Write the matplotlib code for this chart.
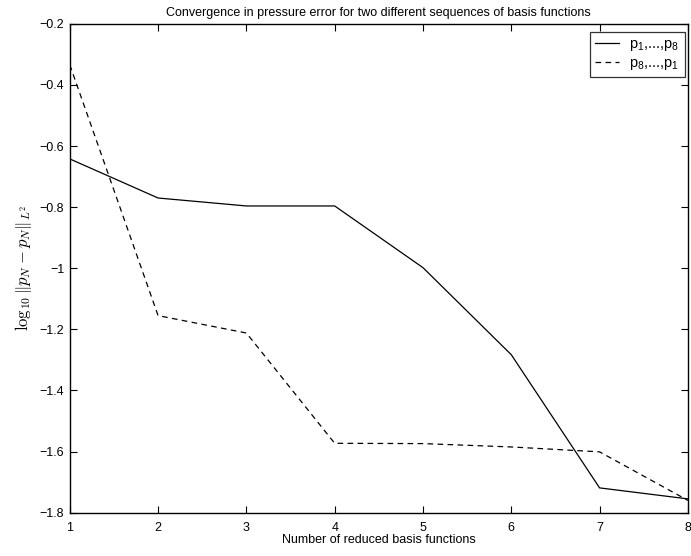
import matplotlib
matplotlib.use("Agg")
import matplotlib.pyplot as plt

# data
n_basis = [1, 2, 3, 4, 5, 6, 7, 8]
err_forward = [-0.642, -0.770, -0.796, -0.796, -0.998, -1.283, -1.719, -1.755]
err_reverse = [-0.334, -1.155, -1.212, -1.573, -1.574, -1.585, -1.601, -1.760]
labels = ["p$_1$,...,p$_8$", "p$_8$,...,p$_1$"]
yticks = [-1.8, -1.6, -1.4, -1.2, -1.0, -0.8, -0.6, -0.4, -0.2]
ytick_labels = ["\u22121.8", "\u22121.6", "\u22121.4", "\u22121.2", "\u22121",
                "\u22120.8", "\u22120.6", "\u22120.4", "\u22120.2"]

plt.rcParams["font.family"] = ["Liberation Sans", "DejaVu Sans"]
plt.rcParams["mathtext.fontset"] = "custom"
plt.rcParams["mathtext.rm"] = "Liberation Sans"
plt.rcParams["mathtext.it"] = "Liberation Sans"

fig = plt.figure(figsize=(6.91, 5.56), dpi=100)
ax = fig.add_axes([0.101, 0.078, 0.8945, 0.879])

ax.plot(n_basis, err_forward, color="black", linestyle="-", linewidth=0.9, label=labels[0])
ax.plot(n_basis, err_reverse, color="black", linestyle=(0, (4.5, 3.5)), linewidth=0.9, label=labels[1])

ax.set_xlim(1, 8)
ax.set_ylim(-1.8, -0.2)
ax.set_xticks(n_basis)
ax.set_yticks(yticks)
ax.set_yticklabels(ytick_labels)
ax.tick_params(direction="in", length=5, width=0.8, labelsize=9, top=True, right=True,
               labeltop=False, labelright=False, pad=4)
ax.tick_params(axis="x", pad=7)
for s in ax.spines.values():
    s.set_linewidth(1.0)

ax.set_title("Convergence in pressure error for two different sequences of basis functions",
             fontsize=9, pad=6)
ax.set_xlabel("Number of reduced basis functions", fontsize=9, labelpad=0)
ax.set_ylabel(r"$\log_{10}\|p_N - p_N\|_{L^2}$", fontsize=12, labelpad=4,
              fontfamily="DejaVu Serif", math_fontfamily="cm")

leg = ax.legend(loc="upper right", bbox_to_anchor=(0.995, 0.984), fontsize=10.5,
                fancybox=False, edgecolor="black", handlelength=1.65, handletextpad=0.7,
                borderpad=0.35, labelspacing=0.2, borderaxespad=0)
leg.get_frame().set_linewidth(0.9)

fig.savefig("out.png", dpi=100)
